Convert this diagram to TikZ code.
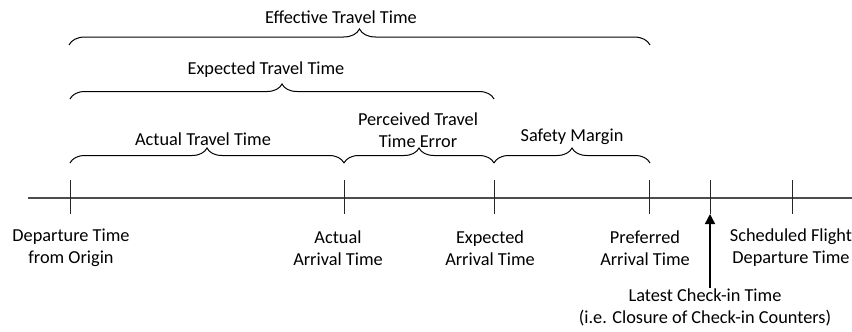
\documentclass[tikz,border=0pt]{standalone}
\usepackage{fontspec}
\setmainfont{Carlito}
\usetikzlibrary{decorations.pathreplacing,arrows.meta}
\begin{document}
\begin{tikzpicture}[x=1pt,y=-1pt,
  lbl/.style={font=\fontsize{18.3}{22}\selectfont, align=center, inner sep=0pt},
  tickmark/.style={line width=1pt, black!85},
  bracepath/.style={decorate, decoration={brace, amplitude=15pt}, line width=1pt},
  axisline/.style={line width=1.3pt, black!70},
  arrowline/.style={line width=1.4pt, -{Triangle[length=10pt,width=10pt]}}]
\useasboundingbox (0,0) rectangle (852,332);
% axis
\coordinate (axL) at (28,198);
\coordinate (axR) at (852,198);
\draw[axisline] (axL) -- (axR);
% ticks
\coordinate (tA) at (70,198);
\coordinate (tB) at (344,198);
\coordinate (tC) at (494,198);
\coordinate (tD) at (649,198);
\coordinate (tE) at (710,198);
\coordinate (tF) at (792,198);
\foreach \t in {tA,tB,tC,tD,tE,tF}
  \draw[tickmark] (\t) ++(0,-18) -- ++(0,34);
% point labels
\node[lbl] (lA) at (71,248) {Departure Time\\from Origin};
\node[lbl] (lB) at (338,248) {Actual\\Arrival Time};
\node[lbl] (lC) at (490,248) {Expected\\Arrival Time};
\node[lbl] (lD) at (645,248) {Preferred\\Arrival Time};
\node[lbl] (lF) at (791,248) {Scheduled Flight\\Departure Time};
\node[lbl] (lE) at (705,307) {Latest Check-in Time\\(i.e. Closure of Check-in Counters)};
\coordinate (tEb) at (710,214);
\draw[arrowline] (lE.north -| tE) -- (tEb);
% braces
\coordinate (bA1) at (70,163);  \coordinate (bB1) at (344,163);
\coordinate (bC1) at (494,163); \coordinate (bD1) at (650,163);
\coordinate (bA2) at (70,99);   \coordinate (bC2) at (494,99);
\coordinate (bA3) at (69,45);   \coordinate (bD3) at (650,45);
\draw[bracepath] (bA1) -- (bB1);
\draw[bracepath] (bB1) -- (bC1);
\draw[bracepath] (bC1) -- (bD1);
\draw[bracepath] (bA2) -- (bC2);
\draw[bracepath,decoration={amplitude=16pt}] (bA3) -- (bD3);
% brace labels
\node[lbl] (nEff) at (341,17) {Effective Travel Time};
\node[lbl] (nExp) at (266,70) {Expected Travel Time};
\node[lbl] (nAct) at (203,139) {Actual Travel Time};
\node[lbl] (nPer) at (418,130) {Perceived Travel\\Time Error};
\node[lbl] (nSaf) at (572,137) {Safety Margin};
\end{tikzpicture}
\end{document}
